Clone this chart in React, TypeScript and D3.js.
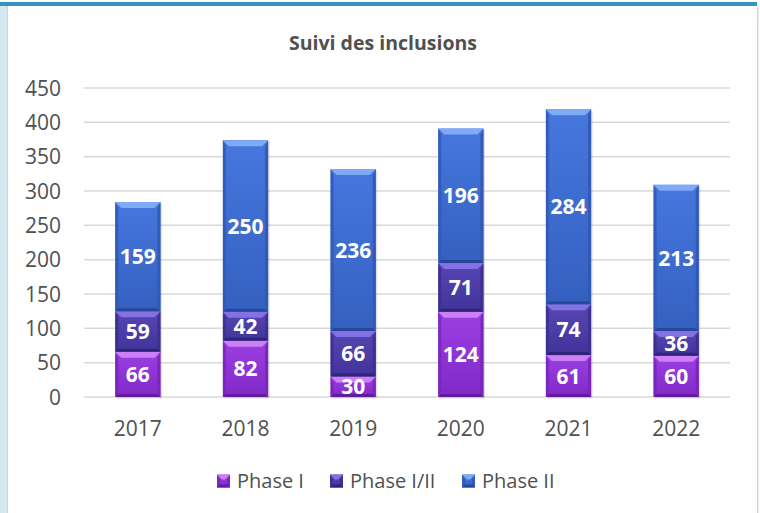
import React from "react";
import * as d3 from "d3";

const years = ["2017", "2018", "2019", "2020", "2021", "2022"];
const phaseI = [66, 82, 30, 124, 61, 60];
const phaseI_II = [59, 42, 66, 71, 74, 36];
const phaseII = [159, 250, 236, 196, 284, 213];
const seriesNames = ["Phase I", "Phase I/II", "Phase II"];
const yTicks = [0, 50, 100, 150, 200, 250, 300, 350, 400, 450];

const palettes = [
  { main1: "#9c3fe2", main2: "#8029c8", top: "#cc80f8", side: "#7826bc", bot: "#611b9c" },
  { main1: "#5646b4", main2: "#41339a", top: "#8472e4", side: "#3c2f8f", bot: "#2f247a" },
  { main1: "#4677de", main2: "#3460c0", top: "#7eaaf6", side: "#3158b5", bot: "#27489a" },
];

const W = 760;
const H = 513;
const FONT = "'Open Sans', 'DejaVu Sans', sans-serif";
const TXT = "#505050";

function Segment({ x0, x1, yTop, yBot, p, id, bev = 6 }: any) {
  const h = yBot - yTop;
  const b = Math.min(bev, h / 2.5);
  const bb = Math.min(3, h / 4);
  return (
    <g>
      <rect x={x0} y={yTop} width={x1 - x0} height={h} fill={`url(#g${id})`} />
      <polygon
        points={`${x0},${yTop} ${x0 + bb},${yTop + b} ${x0 + bb},${yBot - bb} ${x0},${yBot}`}
        fill={p.side}
        opacity={0.85}
      />
      <polygon
        points={`${x1},${yTop} ${x1 - bb},${yTop + b} ${x1 - bb},${yBot - bb} ${x1},${yBot}`}
        fill={p.side}
        opacity={0.95}
      />
      <polygon
        points={`${x0},${yBot} ${x0 + bb},${yBot - bb} ${x1 - bb},${yBot - bb} ${x1},${yBot}`}
        fill={p.bot}
      />
      <polygon
        points={`${x0},${yTop} ${x1},${yTop} ${x1 - b},${yTop + b} ${x0 + b},${yTop + b}`}
        fill={p.top}
      />
    </g>
  );
}

export default function App() {
  const x = d3
    .scaleBand<string>()
    .domain(years)
    .range([84, 730])
    .paddingInner(0.58)
    .paddingOuter(0.29);
  const y = d3.scaleLinear().domain([0, 450]).range([397, 88]);
  const series = [phaseI, phaseI_II, phaseII];

  const legendItems = [
    { x: 217, label: seriesNames[0] },
    { x: 330, label: seriesNames[1] },
    { x: 462, label: seriesNames[2] },
  ];

  return (
    <div style={{ position: "fixed", left: 0, top: 0, width: W, height: H }}>
      <svg width={W} height={H} style={{ display: "block" }}>
        <defs>
          {palettes.map((p, i) => (
            <linearGradient key={i} id={`g${i}`} x1="0" y1="0" x2="0" y2="1">
              <stop offset="0" stopColor={p.main1} />
              <stop offset="1" stopColor={p.main2} />
            </linearGradient>
          ))}
        </defs>
        <rect x={0} y={0} width={W} height={H} fill="#ffffff" />
        <rect x={0} y={5} width={8} height={H - 5} fill="#d3e8f1" />
        <rect x={7} y={5} width={1} height={H - 5} fill="#c9d6dc" />
        <rect x={0} y={2} width={757} height={4} fill="#3596bd" />
        <rect x={757} y={6} width={1.5} height={H - 6} fill="#d6d6d6" />

        <text
          x={383}
          y={43}
          dy="0.36em"
          textAnchor="middle"
          fontFamily={FONT}
          fontWeight={700}
          fontSize={19.5}
          fill={TXT}
        >
          Suivi des inclusions
        </text>

        {yTicks.map((t) => (
          <g key={t}>
            <line
              x1={84}
              x2={730}
              y1={y(t)}
              y2={y(t)}
              stroke="#d9d9d9"
              strokeWidth={1.5}
            />
            <text
              x={61}
              y={y(t)}
              dy="0.36em"
              textAnchor="end"
              fontFamily={FONT}
              fontSize={21}
              fill={TXT}
            >
              {t}
            </text>
          </g>
        ))}

        {years.map((yr, i) => {
          const x0 = x(yr)!;
          const x1 = x0 + x.bandwidth();
          const total = phaseI[i] + phaseI_II[i] + phaseII[i];
          let cum = 0;
          return (
            <g key={yr}>
              <rect
                x={x0 + 1.5}
                y={y(total) + 1.5}
                width={x.bandwidth()}
                height={y(0) - y(total)}
                fill="#000"
                opacity={0.12}
              />
              {series.map((s, si) => {
                const v = s[i];
                const yBot = y(cum);
                const yTop = y(cum + v);
                cum += v;
                return (
                  <Segment
                    key={si}
                    x0={x0}
                    x1={x1}
                    yTop={yTop}
                    yBot={yBot}
                    p={palettes[si]}
                    id={si}
                  />
                );
              })}
              {(() => {
                let c = 0;
                return series.map((s, si) => {
                  const v = s[i];
                  const mid = (y(c) + y(c + v)) / 2;
                  c += v;
                  return (
                    <text
                      key={si}
                      x={(x0 + x1) / 2}
                      y={mid}
                      dy="0.36em"
                      textAnchor="middle"
                      fontFamily={FONT}
                      fontWeight={700}
                      fontSize={21}
                      fill="#ffffff"
                    >
                      {v}
                    </text>
                  );
                });
              })()}
              <text
                x={(x0 + x1) / 2}
                y={428}
                dy="0.36em"
                textAnchor="middle"
                fontFamily={FONT}
                fontSize={21}
                fill={TXT}
              >
                {yr}
              </text>
            </g>
          );
        })}

        {legendItems.map((it, i) => (
          <g key={i}>
            <Segment
              x0={it.x}
              x1={it.x + 13}
              yTop={474.5}
              yBot={487.5}
              p={palettes[i]}
              id={i}
              bev={5}
            />
            <text
              x={it.x + 20}
              y={481}
              dy="0.36em"
              fontFamily={FONT}
              fontSize={20}
              fill={TXT}
            >
              {it.label}
            </text>
          </g>
        ))}
      </svg>
    </div>
  );
}
